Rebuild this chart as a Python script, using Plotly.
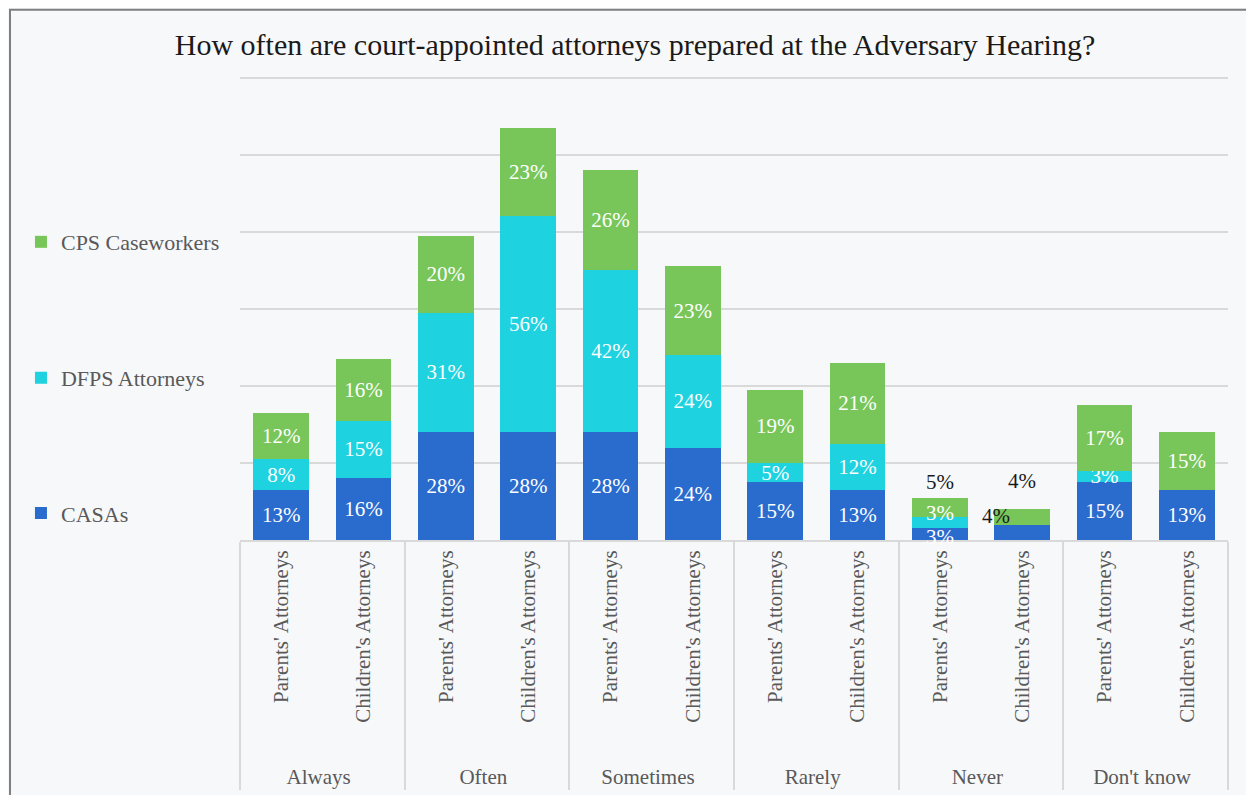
import plotly.graph_objects as go

groups = ["Always", "Often", "Sometimes", "Rarely", "Never", "Don't know"]
attorneys = ["Parents' Attorneys", "\u00a0\u00a0\u00a0\u00a0Children's Attorneys"]

casas = [13, 16, 28, 28, 28, 24, 15, 13, 3, 4, 15, 13]
dfps = [8, 15, 31, 56, 42, 24, 5, 12, 3, 0, 3, 0]
cps = [12, 16, 20, 23, 26, 23, 19, 21, 5, 4, 17, 15]

series_names = ["CASAs", "DFPS Attorneys", "CPS Caseworkers"]
series_values = [casas, dfps, cps]
series_colors = ["#2a6bce", "#1fd2df", "#78c65a"]
legend_ids = ["legend3", "legend2", "legend"]

x_groups = [g for g in groups for _ in attorneys]
x_cats = [a for _ in groups for a in attorneys]

SERIF = "Liberation Serif"
LBL = 21
never_idx = [i for i, g in enumerate(x_groups) if g == "Never"]

fig = go.Figure()
for name, vals, col, lg in zip(series_names, series_values, series_colors, legend_ids):
    txt = ["" if (v == 0 or i in never_idx) else f"{v}%" for i, v in enumerate(vals)]
    fig.add_trace(go.Bar(
        x=[x_groups, x_cats], y=vals, name=name, legend=lg,
        marker=dict(color=col, line=dict(width=0)),
        text=txt, textposition="inside", insidetextanchor="middle",
        textfont=dict(family=SERIF, size=LBL, color="white"),
        hoverinfo="skip",
    ))

# Labels for the tiny "Never" bars
annotations = []
p, c = never_idx
totals = [a + b + d for a, b, d in zip(casas, dfps, cps)]
font_w = dict(family=SERIF, size=LBL, color="white")
font_b = dict(family=SERIF, size=LBL, color="#1a1a1a")
annotations.append(dict(x=p, y=casas[p] / 2, text=f"{casas[p]}%", showarrow=False, font=font_w, yshift=-3))
annotations.append(dict(x=p, y=casas[p] + dfps[p] / 2, text=f"{dfps[p]}%", showarrow=False, font=font_w, yshift=10))
annotations.append(dict(x=p, y=totals[p], text=f"{cps[p]}%", showarrow=False, font=font_b, yshift=16))
annotations.append(dict(x=c, y=totals[c], text=f"{cps[c]}%", showarrow=False, font=font_b, yshift=28))
annotations.append(dict(x=c, y=casas[c], text=f"{casas[c]}%", showarrow=False, font=font_b, xshift=-26, yshift=9))
for a in annotations:
    a.update(xref="x", yref="y")

# outer frame
fig.add_shape(type="rect", xref="paper", yref="paper",
              x0=-0.2328, x1=1.06, y0=-0.7, y1=1.128,
              line=dict(color="#7f7f7f", width=2), fillcolor="rgba(0,0,0,0)", layer="below")

fig.update_layout(
    width=1254, height=795,
    margin=dict(l=232, r=34, t=62, b=263, autoexpand=False),
    paper_bgcolor="#f7f8fa", plot_bgcolor="rgba(0,0,0,0)",
    barmode="stack", bargap=0.32,
    uniformtext=dict(minsize=LBL, mode="show"),
    title=dict(text="How often are court-appointed attorneys prepared at the Adversary Hearing?",
               x=0.5, xanchor="center", y=0.9535, yanchor="middle",
               font=dict(family=SERIF, size=30, color="#1a1a1a")),
    yaxis=dict(range=[0, 122], dtick=20, showticklabels=False, showgrid=True, automargin=False,
               gridcolor="#d9d9d9", gridwidth=2, zeroline=False, showline=False),
    xaxis=dict(type="multicategory", tickangle=-90, showgrid=False, automargin=False,
               tickfont=dict(family=SERIF, size=21, color="#595959"),
               showdividers=True, dividercolor="#d9d9d9", dividerwidth=2,
               showline=True, linecolor="#d9d9d9", linewidth=2, ticks=""),
    font=dict(family=SERIF, color="#595959"),
    annotations=annotations,
    showlegend=True,
)
leg_common = dict(font=dict(family=SERIF, size=22, color="#595959"), bgcolor="rgba(0,0,0,0)",
                  xanchor="left", yanchor="middle", x=-0.2217)
fig.update_layout(
    legend=dict(y=0.634, **leg_common),
    legend2=dict(y=0.345, **leg_common),
    legend3=dict(y=0.057, **leg_common),
)

fig.write_html("out.html")
